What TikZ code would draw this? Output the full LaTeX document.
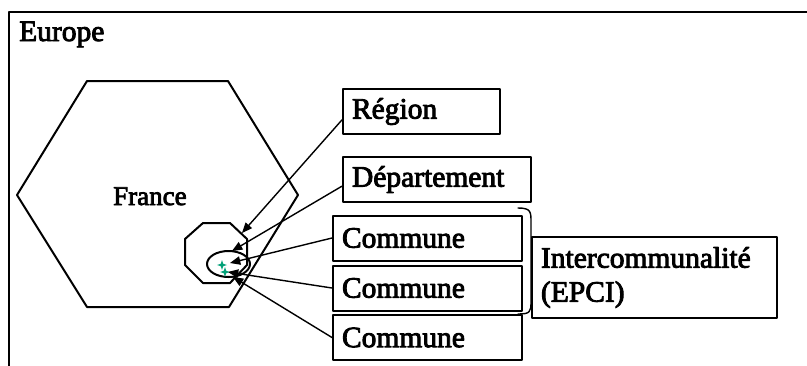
\documentclass[tikz,border=0pt]{standalone}
\usepackage{fontspec}
\setmainfont{Liberation Serif}
\newfontfamily\heavyserif{Liberation Serif}[FakeBold=3]
\usepackage{tikz}
\usetikzlibrary{calc}
\usetikzlibrary{arrows}
\definecolor{qqaaww}{rgb}{0.,0.63,0.47}
\tikzstyle{every node}=[font=\fontsize{29.5}{34}\selectfont\heavyserif]
\tikzstyle{levelbox}=[draw,line width=2pt,minimum height=45pt,inner xsep=9pt,inner ysep=0pt,align=left]
\tikzstyle{link}=[->,line width=1.4pt]

\begin{document}
\begin{tikzpicture}[line cap=round,line join=round,>=triangle 45,x=1.0pt,y=-1.0pt]
            \useasboundingbox (0,0) rectangle (807,365);
            \clip (0,0) rectangle (807,365);
            \fill[white] (0,0) rectangle (807,365);
            % Europe
            \draw [line width=2.2pt] (9,370) -- (9,12) -- (812,12);
            \node [anchor=base west,inner sep=0pt] (europe) at (19,41) {Europe};
            % France and the nested levels
            \draw [line width=2pt] (87,81) -- (228,81) -- (298,195) -- (229,307) -- (87,307) -- (17,195) -- cycle;
            \node [anchor=base west,inner sep=0pt,font=\fontsize{27}{30}\selectfont\heavyserif] (france) at (113,205) {France};
            \draw [line width=2pt] (203,223) -- (230,223) -- (247,239) -- (247,265) -- (230,283) -- (203,283) -- (185,265) -- (185,239) -- cycle;
            \draw [line width=2pt] (228.5,264) ellipse (21.5 and 13);
            \fill[qqaaww] (222,260) -- (223.2,263.8) -- (227,265) -- (223.2,266.2) -- (222,270) -- (220.8,266.2) -- (217,265) -- (220.8,263.8) -- cycle;
            \fill[qqaaww] (225,267) -- (226.2,270.8) -- (230,272) -- (226.2,273.2) -- (225,277) -- (223.8,273.2) -- (220,272) -- (223.8,270.8) -- cycle;
            \coordinate (regTip) at (242,233);
            \coordinate (depTip) at (232,251);
            \coordinate (comATip) at (230,263);
            \coordinate (comBTip) at (228,272);
            \coordinate (comCTip) at (233,277);
            % level boxes
            \node [levelbox,text width=139pt] (region) at (421.5,111.5) {Région};
            \node [levelbox,text width=170pt] (dept) at (437,179.5) {Département};
            \node [levelbox,text width=171pt] (comA) at (427.5,238) {Commune};
            \node [levelbox,text width=171pt] (comB) at (427.5,288) {Commune};
            \node [levelbox,text width=171pt] (comC) at (427.5,337.5) {Commune};
            \node [levelbox,text width=227pt,minimum height=81pt] (epci) at (654.5,277.5) {Intercommunalité\\(EPCI)};
            \draw [line width=1.4pt] (518,208) .. controls (531,208) and (531,212) .. (531,222) -- (531,302) .. controls (531,312) and (530,314) .. (518,314);
            % arrows
            \draw [link] (region.186) -- (regTip);
            \draw [link] (dept.184) -- (depTip);
            \draw [link] (comA.west) -- (comATip);
            \draw [link] (comB.west) -- (comBTip);
            \draw [link] (comC.west) -- (comCTip);
\end{tikzpicture}
\end{document}
